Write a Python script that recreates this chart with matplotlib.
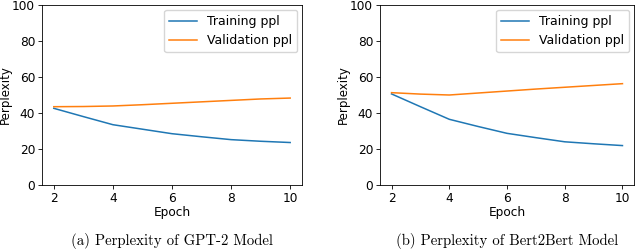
import matplotlib
matplotlib.use('Agg')
import matplotlib.pyplot as plt

epochs = [2, 3, 4, 5, 6, 7, 8, 9, 10]
gpt2_train = [42.6, 38.0, 33.5, 31.0, 28.5, 26.8, 25.2, 24.3, 23.6]
gpt2_val = [43.5, 43.6, 43.9, 44.6, 45.4, 46.2, 47.0, 47.8, 48.3]
bert_train = [50.6, 43.5, 36.5, 32.5, 28.7, 26.3, 24.0, 22.9, 21.9]
bert_val = [51.3, 50.5, 50.0, 51.1, 52.2, 53.3, 54.3, 55.3, 56.3]
captions = ['(a) Perplexity of GPT-2 Model', '(b) Perplexity of Bert2Bert Model']

W, H = 640, 249
fig = plt.figure(figsize=(W/100, H/100), dpi=100)

boxes = [(42, 302), (380, 634)]
top, bottom = 5, 185
for (x0, x1), tr, va, cap in zip(boxes, [gpt2_train, bert_train], [gpt2_val, bert_val], captions):
    ax = fig.add_axes([x0/W, 1-bottom/H, (x1-x0)/W, (bottom-top)/H])
    ax.plot(epochs, tr, color='#1f77b4', lw=1.1, label='Training ppl')
    ax.plot(epochs, va, color='#ff7f0e', lw=1.1, label='Validation ppl')
    ax.set_ylim(0, 100)
    ax.set_xticks([2, 4, 6, 8, 10])
    ax.set_yticks([0, 20, 40, 60, 80, 100])
    ax.tick_params(labelsize=8.7, length=3, width=0.6, pad=2)
    for s in ax.spines.values():
        s.set_linewidth(0.6)
    ax.set_xlabel('Epoch', fontsize=8.7, labelpad=1)
    ax.set_ylabel('Perplexity', fontsize=8.5, labelpad=0)
    ax.legend(loc='upper right', fontsize=9, handlelength=2.2, borderaxespad=0.4)
    fig.text((x0+x1)/2/W, 1-241/H, cap, ha='center', va='center',
             fontsize=10.7, family='cmr10')

plt.savefig('out.png', dpi=100)
